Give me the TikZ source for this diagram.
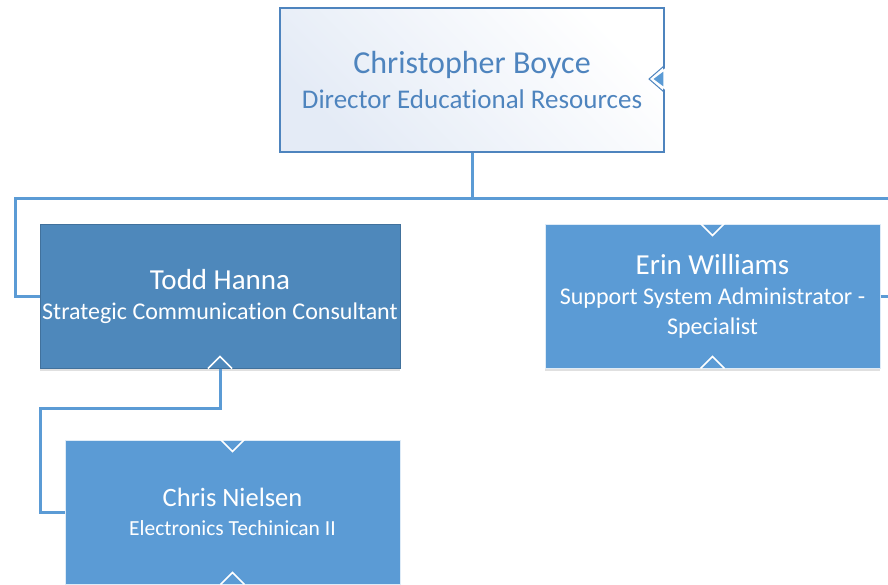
\documentclass[tikz,border=0pt]{standalone}
\usepackage{fontspec}
\setmainfont[Ligatures=NoCommon]{Carlito}
\usetikzlibrary{shadows}
\definecolor{linkblue}{HTML}{5B9BD5}
\definecolor{bossblue}{HTML}{4E84BE}
\definecolor{toddblue}{HTML}{4E88BB}
\definecolor{toddedge}{HTML}{41719C}
\definecolor{paleblue}{HTML}{E4EBF6}
\begin{document}
\begin{tikzpicture}[x=1pt,y=-1pt,
    link/.style={draw=linkblue,line width=3pt},
    card/.style={rectangle,inner sep=0pt,align=center,text=white,
        drop shadow={shadow xshift=0pt,shadow yshift=-3pt,opacity=.12,fill=black}},
    notch/.style={draw=white,line width=1.5pt}]
    \useasboundingbox (0,0) rectangle (888,584);
    % top box
    \node[rectangle,draw=bossblue,line width=1.5pt,left color=paleblue,right color=white,
        shading angle=135,minimum width=384,minimum height=144,align=center,text=bossblue,
        font=\fontsize{27}{35}\selectfont]
        (boyce) at (472,80) {{\fontsize{32}{35}\selectfont Christopher Boyce}\\
        Director Educational Resources};
    \fill[linkblue,draw=white,line width=1.5pt] (664,70)--(652,79)--(664,88)--cycle;
    \draw[bossblue,line width=1pt] (664,66)--(649,79)--(664,92);
    % second row
    \node[card,fill=toddblue,draw=toddedge,line width=1pt,minimum width=360,minimum height=144,
        font=\fontsize{24}{30}\selectfont]
        (todd) at (220,296) {{\fontsize{29}{30}\selectfont Todd Hanna}\\
        Strategic Communication Consultant};
    \node[card,fill=linkblue,draw=white!80!linkblue,line width=1pt,minimum width=335,minimum height=144,
        font=\fontsize{24}{30}\selectfont]
        (erin) at (712.5,296) {{\fontsize{29}{30}\selectfont Erin Williams}\\
        Support System Administrator -\\ Specialist};
    % third row
    \node[card,fill=linkblue,draw=white!80!linkblue,line width=1pt,minimum width=335,minimum height=144,
        font=\fontsize{21.5}{29}\selectfont]
        (chris) at (232.5,512) {{\fontsize{26.5}{29}\selectfont Chris Nielsen}\\
        Electronics Techinican II};
    % connectors
    \coordinate (busend) at (888,198);
    \coordinate (erinout) at (888,296);
    \draw[link] (boyce.south) -- (472,198) -| (15,296) -- (todd.west);
    \draw[link] (472,198) -- (busend);
    \draw[link] (erin.east) -- (erinout);
    \draw[link] (todd.south) -- (220,408) -| (40,512) -- (chris.west);
    % notches
    \draw[notch] (erin.north) ++(-12,0) -- ++(12,12) -- ++(12,-12);
    \draw[notch] (erin.south) ++(-12,0) -- ++(12,-12) -- ++(12,12);
    \draw[notch] (todd.south) ++(-12,0) -- ++(12,-12) -- ++(12,12);
    \draw[notch] (chris.north) ++(-12,0) -- ++(12,12) -- ++(12,-12);
    \draw[notch] (chris.south) ++(-12,0) -- ++(12,-12) -- ++(12,12);
\end{tikzpicture}
\end{document}
